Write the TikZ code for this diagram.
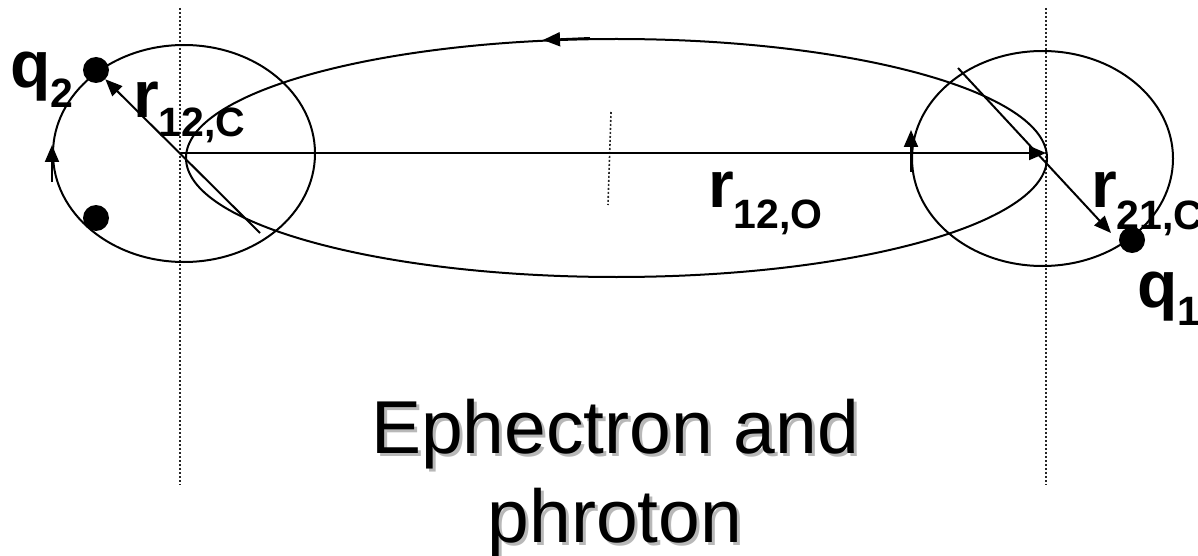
\documentclass[tikz,border=0pt]{standalone}
\usepackage{fontspec}
\setmainfont{Liberation Sans}
\usetikzlibrary{arrows.meta}

\tikzset{
  orbit/.style={draw, line width=2pt},
  guide/.style={draw=black!85, line width=1.6pt, dash pattern=on 2pt off 2pt},
  vec/.style={line width=2pt, -{Triangle[length=17pt,width=14pt]}},
  charge/.style={circle, fill=black, minimum size=26pt, inner sep=0pt},
  lbl/.style={font=\bfseries\fontsize{66}{66}\selectfont, inner sep=0pt, anchor=base west},
  caption/.style={font=\fontsize{75}{75}\selectfont, inner sep=0pt, anchor=base},
}
\newcommand{\lblsub}[2][20pt]{\raisebox{-#1}{\fontsize{41}{41}\selectfont #2}}

\begin{document}
\begin{tikzpicture}[x=1pt, y=-1pt]
            \clip (0,0) rectangle (1198,556);

            % centres
            \coordinate (cL) at (181,153);
            \coordinate (cR) at (1046,153);
            \coordinate (eL) at (184,153.5);
            \coordinate (eR) at (1042.5,158.5);
            \coordinate (eB) at (616.5,158);

            % guide lines
            \draw[guide] (180,8) -- (180,485);
            \draw[guide] (1046,8) -- (1046,485);
            \draw[guide] (611,112) -- (608,205);

            % orbits
            \draw[orbit] (eL) ellipse [x radius=131, y radius=108.5];
            \draw[orbit] (eR) ellipse [x radius=130.5, y radius=107.5];
            \draw[orbit] (eB) ellipse [x radius=430.5, y radius=119];

            % charges
            \node[charge] (q2dot) at (96,70) {};
            \node[charge] (lowdot) at (96,218) {};
            \node[charge] (q1dot) at (1132,240) {};

            % direction arrows
            \coordinate (topA) at (590,38);
            \coordinate (topB) at (543,40);
            \coordinate (upLa) at (52,182);
            \coordinate (upLb) at (52,145);
            \coordinate (upRa) at (911,172);
            \coordinate (upRb) at (911,130);
            \draw[vec] (topA) -- (topB);
            \draw[vec] (upLa) -- (upLb);
            \draw[vec] (upRa) -- (upRb);

            % radius vectors
            \coordinate (lTail) at (260,233);
            \coordinate (rTail) at (958,68);
            \coordinate (rTip) at (1111,233);
            \draw[vec] (cL) -- (cR);
            \draw[vec] (lTail) -- (q2dot);
            \draw[vec] (rTail) -- (rTip);

            % labels
            \node[lbl] (q2lbl) at (10,88) {q\lblsub{2}};
            \node[lbl] (r12c) at (133,118) {r\lblsub[19pt]{12,C}};
            \node[lbl] (r12o) at (708,207) {r\lblsub[21pt]{12,O}};
            \node[lbl] (r21c) at (1091,207) {r\lblsub[22pt]{21,C}};
            \node[lbl] (q1lbl) at (1137,307) {q\lblsub[18pt]{1}};

            % caption with shadow
            \node[caption, text=black!28] (capAs) at (618,456) {Ephectron and};
            \node[caption, text=black!28] (capBs) at (618,545) {phroton};
            \node[caption] (capA) at (615,453) {Ephectron and};
            \node[caption] (capB) at (615,542) {phroton};
        \end{tikzpicture}
\end{document}
